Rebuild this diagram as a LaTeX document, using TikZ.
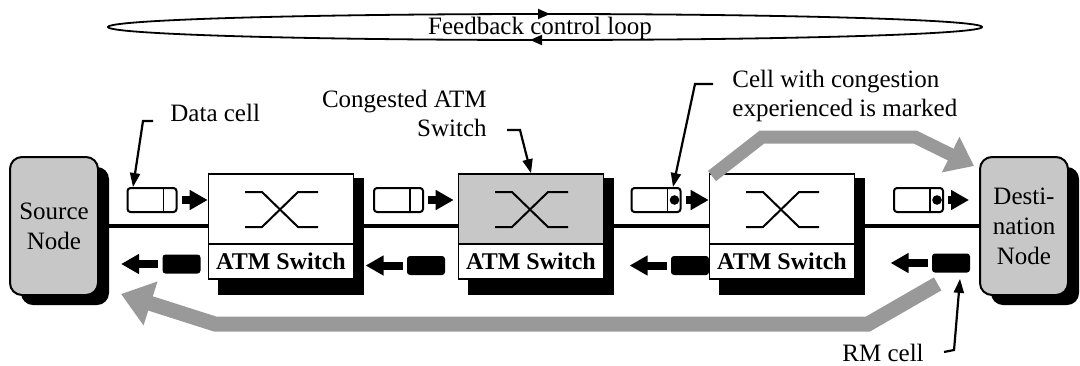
\documentclass[tikz,border=0pt]{standalone}
\usepackage{fontspec}
\setmainfont{Liberation Serif}
\usetikzlibrary{arrows.meta,shadows}

\tikzset{
  endnode/.style={draw, line width=1pt, rounded corners=6pt, fill=black!22,
    minimum width=44pt, minimum height=69pt, align=center, inner sep=0pt,
    font=\fontsize{12.5}{15}\selectfont,
    drop shadow={shadow xshift=5.5pt, shadow yshift=-5pt, fill=black, opacity=1}},
  swbox/.style={draw, line width=0.8pt, minimum width=72.5pt, minimum height=52.5pt, inner sep=0pt},
  swname/.style={draw, line width=0.8pt, fill=white, minimum width=72.5pt, minimum height=17.5pt,
    inner sep=0pt, font=\fontsize{12}{14}\selectfont\bfseries},
  datacell/.style={draw, line width=1pt, rounded corners=1.5pt, fill=white,
    minimum width=24.5pt, minimum height=12pt, inner sep=0pt},
  rmcell/.style={fill=black, rounded corners=1.5pt, minimum width=19pt, minimum height=9.5pt, inner sep=0pt},
  fwd/.style={line width=4pt, -{Triangle[length=9pt,width=9.5pt]}},
  band/.style={draw=black!40, line width=7.5pt},
  leader/.style={line width=1.1pt, -{Triangle[length=7pt,width=5pt]}},
  lbl/.style={font=\fontsize{12.5}{14.5}\selectfont, inner sep=0pt},
}

\begin{document}
\begin{tikzpicture}[x=0.5pt,y=-0.5pt]
  \useasboundingbox (0,0) rectangle (1080,365);

  % feedback loop ellipse on top
  \draw[line width=0.9pt] (545,27) ellipse [x radius=218.5pt, y radius=6.5pt];
  \node[lbl] (fbk) at (540,28) {Feedback control loop};
  \coordinate (looptop) at (550,14);
  \coordinate (loopbot) at (530,40);
  \draw[line width=0.9pt, -{Triangle[length=6pt,width=5pt]}] (looptop) ++(-18,0) -- (looptop);
  \draw[line width=0.9pt, -{Triangle[length=6pt,width=5pt]}] (loopbot) ++(18,0) -- (loopbot);

  % end systems
  \node[endnode] (src) at (54,226) {Source\\Node};
  \node[endnode] (dst) at (1024,226) {Desti-\\nation\\Node};

  % the link
  \draw[line width=2.3pt] (src) -- (dst);

  % switches
  \foreach \n/\x/\col in {1/281/white, 2/531/black!22, 3/782/white}{
    \fill (\x-63,178) rectangle (\x+82.5,295);
    \node[swbox, fill=\col] (sw\n) at (\x,226.5) {};
    \node[swname] (swn\n) at (\x,261.5) {ATM Switch};
    \draw[line width=1pt] (\x-36,192) -- (\x-19,192) -- (\x+17,227) -- (\x+37,227);
    \draw[line width=1pt] (\x-36,227) -- (\x-19,227) -- (\x+17,192) -- (\x+37,192);
  }

  % forward data cells
  \node[datacell] (c1) at (152,200) {};
  \node[datacell] (c2) at (398.5,200) {};
  \node[datacell] (c3) at (656,200) {};
  \node[datacell] (c4) at (918.5,200) {};
  \foreach \c in {c1,c2,c3,c4}
    \draw[line width=0.8pt] ([xshift=-7pt]\c.north east) -- ([xshift=-7pt]\c.south east);
  \fill ([xshift=-3.5pt]c3.east) circle (2.4pt);
  \fill ([xshift=-3.5pt]c4.east) circle (2.4pt);
  \draw[fwd] ([xshift=2pt]c1.east) -- (c1 -| sw1.west);
  \draw[fwd, shorten >=2pt] ([xshift=2pt]c2.east) -- (c2 -| sw2.west);
  \draw[fwd] ([xshift=2pt]c3.east) -- (c3 -| sw3.west);
  \draw[fwd, shorten >=5pt] ([xshift=2pt]c4.east) -- (c4 -| dst.west);

  % backward RM cells
  \node[rmcell] (r1) at (181.5,264) {};
  \node[rmcell] (r2) at (426,265.5) {};
  \node[rmcell] (r3) at (690,265.5) {};
  \node[rmcell] (r4) at (951,263) {};
  \foreach \r in {r1,r2,r3,r4}
    \draw[fwd] ([xshift=-2pt]\r.west) -- ++(-37,0);

  % wide grey arrows
  \draw[band, line width=6.5pt, -{Triangle[length=13pt,width=19pt]}]
    (712,176) -- (762,137) -- (915,137) -- ([shift={(-2.5pt,-5pt)}]dst.north west);
  \draw[band, -{Triangle[length=15.5pt,width=22pt]}]
    ([shift={(3pt,-5.5pt)}]r4.south west) -- (868,324) -- (215,324) -- ([shift={(11pt,1pt)}]src.south east);

  % callouts
  \node[lbl, anchor=west] (datalbl) at (170,113) {Data cell};
  \draw[leader] (datalbl.west) ++(-17,8) -- ++(-10,0) -- ([xshift=-9.5pt]c1.north);
  \node[lbl, anchor=east, align=right] (conglbl) at (487,113) {Congested ATM\\Switch};
  \draw[leader] (conglbl.east) ++(20,17) -- ++(13,0) -- (sw2.north);
  \node[lbl, anchor=west, align=left] (marklbl) at (732,96) {Cell with congestion\\experienced is marked};
  \draw[leader] (marklbl.west) ++(-19,-12) -- ++(-18,0) -- ([xshift=8.5pt]c3.north);
  \node[lbl, anchor=west] (rmlbl) at (842,353) {RM cell};
  \draw[leader] (rmlbl.east) ++(20,-1) -- ++(10,-2) -- ([shift={(4.5pt,-3pt)}]r4.south);
\end{tikzpicture}
\end{document}
